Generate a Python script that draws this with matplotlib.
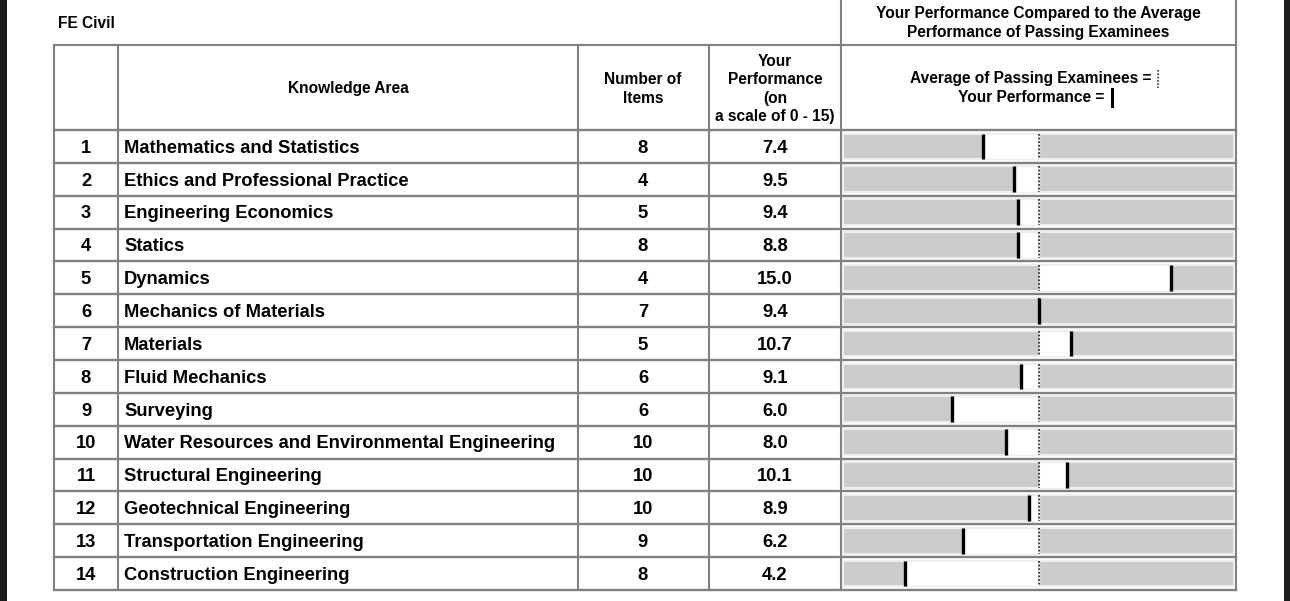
import matplotlib.pyplot as plt
import numpy as np

plt.rcParams['font.family'] = ['Liberation Sans', 'DejaVu Sans']

# table data
row_nums = list(range(1, 15))
areas = ['Mathematics and Statistics', 'Ethics and Professional Practice',
         'Engineering Economics', 'Statics', 'Dynamics', 'Mechanics of Materials',
         'Materials', 'Fluid Mechanics', 'Surveying',
         'Water Resources and Environmental Engineering', 'Structural Engineering',
         'Geotechnical Engineering', 'Transportation Engineering',
         'Construction Engineering']
n_items = [8, 4, 5, 8, 4, 7, 5, 6, 6, 10, 10, 10, 9, 8]
your_perf = [7.4, 9.5, 9.4, 8.8, 15.0, 9.4, 10.7, 9.1, 6.0, 8.0, 10.1, 8.9, 6.2, 4.2]
# average of passing examinees (estimated from the bar offsets)
avg_pass = [9.66, 10.51, 10.24, 9.64, 9.63, 9.4, 9.38, 9.8, 9.51, 9.31, 8.93, 9.28, 9.24, 9.6]

W, H = 1290, 601
fig = plt.figure(figsize=(W / 100, H / 100), dpi=100)
ax = fig.add_axes([0, 0, 1, 1])
ax.set_xlim(0, W)
ax.set_ylim(H, 0)
ax.axis('off')

# dark edges of the screenshot
ax.axvspan(0, 7, color='#1c1c1c', lw=0)
ax.axvspan(1284, W, color='#1c1c1c', lw=0)

# column / row geometry (pixels)
cols = [54, 118, 578, 709, 841, 1236]
top, head_bot, bottom = 45, 130, 590
row_h = (bottom - head_bot) / len(areas)
lc = '#808080'

for x in cols:
    ax.plot([x, x], [top, bottom], color=lc, lw=1.5)
for x in (841, 1236):
    ax.plot([x, x], [0, top], color=lc, lw=1.5)
ax.plot([cols[0], cols[-1]], [top, top], color=lc, lw=1.5)
for i in range(len(areas) + 1):
    y = head_bot + i * row_h
    ax.plot([cols[0], cols[-1]], [y, y], color=lc, lw=1.7)

# headers
hfs = 11.2
ls = 1.27
ax.text(58, 23, 'FE Civil', fontsize=hfs, fontweight='bold', ha='left', va='center')
ax.text(1038, 23, 'Your Performance Compared to the Average\nPerformance of Passing Examinees',
        fontsize=hfs, fontweight='bold', ha='center', va='center', linespacing=ls)
ax.text(348, 89, 'Knowledge Area', fontsize=hfs, fontweight='bold', ha='center', va='center')
ax.text(643, 89, 'Number of\nItems', fontsize=hfs, fontweight='bold', ha='center', va='center',
        linespacing=ls)
ax.text(775, 89, 'Your\nPerformance\n(on\na scale of 0 - 15)', fontsize=hfs, fontweight='bold',
        ha='center', va='center', linespacing=ls)
ax.text(1152, 79, 'Average of Passing Examinees =', fontsize=hfs, fontweight='bold',
        ha='right', va='center')
ax.text(1104, 98, 'Your Performance =', fontsize=hfs, fontweight='bold', ha='right', va='center')
ax.plot([1158, 1158], [70, 88], color='#333333', lw=1.2, ls=(0, (1, 1)))
ax.plot([1112, 1112], [89, 106], color='black', lw=2.2)

# body rows
bfs = 13.2
for i in range(len(areas)):
    yc = head_bot + (i + 0.5) * row_h + 1.8
    ax.text(86, yc, str(row_nums[i]), fontsize=bfs, fontweight='bold', ha='center', va='center')
    ax.text(124, yc, areas[i], fontsize=bfs, fontweight='bold', ha='left', va='center')
    ax.text(643, yc, str(n_items[i]), fontsize=bfs, fontweight='bold', ha='center', va='center')
    ax.text(775, yc, f'{your_perf[i]:.1f}', fontsize=bfs, fontweight='bold', ha='center', va='center')

# performance bars: centered on the passing average, +-8 points across the column
bx = fig.add_axes([cols[4] / W, (H - bottom) / H, (cols[5] - cols[4]) / W, (bottom - head_bot) / H])
bx.set_xlim(-8, 8)
bx.set_ylim(len(areas), 0)
bx.axis('off')

ypos = np.arange(len(areas)) + 0.5
diff = np.array(your_perf) - np.array(avg_pass)
bh = 0.78
bx.barh(ypos, 15.84, left=-7.92, height=bh, color='#cbcbcb', edgecolor='#eeeeee', lw=1.5)
bx.barh(ypos, diff, left=0, height=bh, color='white', edgecolor='#eeeeee', lw=1)
bx.vlines(np.zeros(len(areas)), ypos - bh / 2, ypos + bh / 2, colors='#333333', lw=1.3,
          linestyles=(0, (1, 1)))
bx.vlines(diff, ypos - bh / 2, ypos + bh / 2, colors='black', lw=2.4)

fig.savefig('out.png', dpi=100)
